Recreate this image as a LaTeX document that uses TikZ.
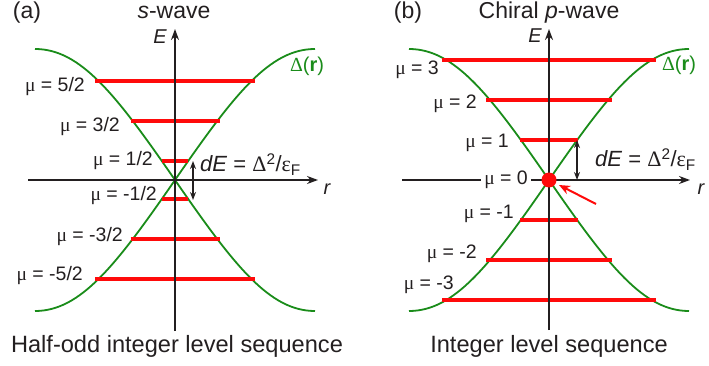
\documentclass[tikz,border=0pt]{standalone}
\usepackage{fontspec}
\setmainfont{Liberation Sans}
\newfontfamily\grk{Liberation Serif}
\usetikzlibrary{arrows.meta}
\definecolor{axc}{HTML}{231F20}
\definecolor{gapc}{HTML}{1A8C1A}
\definecolor{lvc}{HTML}{FF0A0A}
\newcommand{\mmu}{{\grk μ}}
\tikzset{
  axisline/.style={draw=axc, line width=1.8pt, -{Stealth[length=11pt,width=8pt]}},
  gapcurve/.style={draw=gapc, line width=1.8pt},
  levelline/.style={draw=lvc, line width=4pt},
  lbl/.style={font=\fontsize{19.5}{20}\selectfont, anchor=east, inner sep=0pt, text=axc},
  ttl/.style={font=\fontsize{23}{24}\selectfont, inner sep=0pt, anchor=base, text=axc},
  btm/.style={font=\fontsize{23.6}{24}\selectfont, inner sep=0pt, anchor=base, text=axc},
  axlbl/.style={font=\fontsize{20}{20}\selectfont\itshape, inner sep=0pt, text=axc},
  gaplbl/.style={font=\fontsize{20}{20}\selectfont, inner sep=0pt, text=gapc},
  delbl/.style={font=\fontsize{22}{22}\selectfont, inner sep=0pt, anchor=base west, text=axc},
  dearrow/.style={draw=axc, line width=1.5pt, {Stealth[length=8pt,width=6pt]}-{Stealth[length=8pt,width=6pt]}},
}
\begin{document}
\begin{tikzpicture}[x=1pt,y=-1pt]
\useasboundingbox (0,0) rectangle (709,366);

% ---------------- panel (a) ----------------
\coordinate (aO) at (175,180);
\coordinate (aL) at (28,180);
\coordinate (aR) at (318,180);
\coordinate (aB) at (175,331);
\coordinate (aT) at (175,29);

% gap curves
\draw[gapcurve] (35,49) .. controls (80,49) and (115,93) .. (aO)
  .. controls (235,93) and (270,49) .. (315,49);
\draw[gapcurve] (35,311) .. controls (80,311) and (115,267) .. (aO)
  .. controls (235,267) and (270,311) .. (315,311);

% levels
\foreach \n/\yy/\hw in {a1/81/80, a2/121/44.5, a3/161/13, a4/199/13, a5/239/44.5, a6/279/80}{
  \coordinate (\n l) at (175-\hw,\yy);
  \coordinate (\n r) at (175+\hw,\yy);
  \draw[levelline] (\n l) -- (\n r);
}

% axes
\draw[axisline] (aL) -- (aR);
\draw[axisline] (aB) -- (aT);

% dE arrow
\coordinate (aDt) at (193,161);
\coordinate (aDb) at (193,200);
\draw[dearrow] (aDt) -- (aDb);

% labels
\node[lbl] (la1) at (85,87) {\mmu{} = 5/2};
\node[lbl] (la2) at (120,127) {\mmu{} = 3/2};
\node[lbl] (la3) at (153,161) {\mmu{} = 1/2};
\node[lbl] (la4) at (157,196) {\mmu{} = -1/2};
\node[lbl] (la5) at (123,237) {\mmu{} = -3/2};
\node[lbl] (la6) at (83,276) {\mmu{} = -5/2};

\node[ttl] (tA) at (27,18.5) {(a)};
\node[ttl] (tsw) at (174,18.5) {\itshape s\upshape-wave};
\node[axlbl] (EA) at (160,37) {E};
\node[axlbl] (rA) at (327,189) {r};
\node[gaplbl] (DA) at (307,66) {{\grk Δ}(\textbf{r})};
\node[delbl] (dEA) at (200,172) {\textit{dE} = {\grk Δ}\textsuperscript{2}/{\grk ε}\textsubscript{F}};
\node[btm] (bA) at (177,352) {Half-odd integer level sequence};

% ---------------- panel (b) ----------------
\coordinate (bO) at (549,180);
\coordinate (bL) at (402,180);
\coordinate (bR) at (690,180);
\coordinate (bB) at (549,330);
\coordinate (bT) at (549,29);

\draw[gapcurve] (409,49) .. controls (454,49) and (489,93) .. (bO)
  .. controls (609,93) and (644,49) .. (689,49);
\draw[gapcurve] (409,311) .. controls (454,311) and (489,267) .. (bO)
  .. controls (609,267) and (644,311) .. (689,311);

\foreach \n/\yy/\hw in {b1/60/107, b2/100/63, b3/140/29, b4/220/29, b5/260/63, b6/300/107}{
  \coordinate (\n l) at (549-\hw,\yy);
  \coordinate (\n r) at (549+\hw,\yy);
  \draw[levelline] (\n l) -- (\n r);
}

\draw[axisline] (bL) -- (bR);
\draw[axisline] (bB) -- (bT);

\node[lbl, fill=white, inner xsep=3pt, inner ysep=2pt] (lb0) at (531,180) {\mmu{} = 0};

\fill[lvc] (bO) circle (7.5);
\coordinate (arS) at (596,204);
\coordinate (arE) at (559,185);
\draw[draw=lvc, line width=2pt, -{Stealth[length=11pt,width=9pt]}] (arS) -- (arE);

\coordinate (bDt) at (577,140);
\coordinate (bDb) at (577,180);
\draw[dearrow] (bDt) -- (bDb);

\node[lbl] (lb1) at (439,70) {\mmu{} = 3};
\node[lbl] (lb2) at (477,104) {\mmu{} = 2};
\node[lbl] (lb3) at (509,143) {\mmu{} = 1};
\node[lbl] (lb4) at (514,214) {\mmu{} = -1};
\node[lbl] (lb5) at (477,254) {\mmu{} = -2};
\node[lbl] (lb6) at (454,285) {\mmu{} = -3};

\node[ttl] (tB) at (408,18.5) {(b)};
\node[ttl] (tpw) at (549,18.5) {Chiral \itshape p\upshape-wave};
\node[axlbl] (EB) at (535,36) {E};
\node[axlbl] (rB) at (701,189) {r};
\node[gaplbl] (DB) at (679,65) {{\grk Δ}(\textbf{r})};
\node[delbl] (dEB) at (595,167) {\textit{dE} = {\grk Δ}\textsuperscript{2}/{\grk ε}\textsubscript{F}};
\node[btm] (bBt) at (549,352) {Integer level sequence};
\end{tikzpicture}
\end{document}
